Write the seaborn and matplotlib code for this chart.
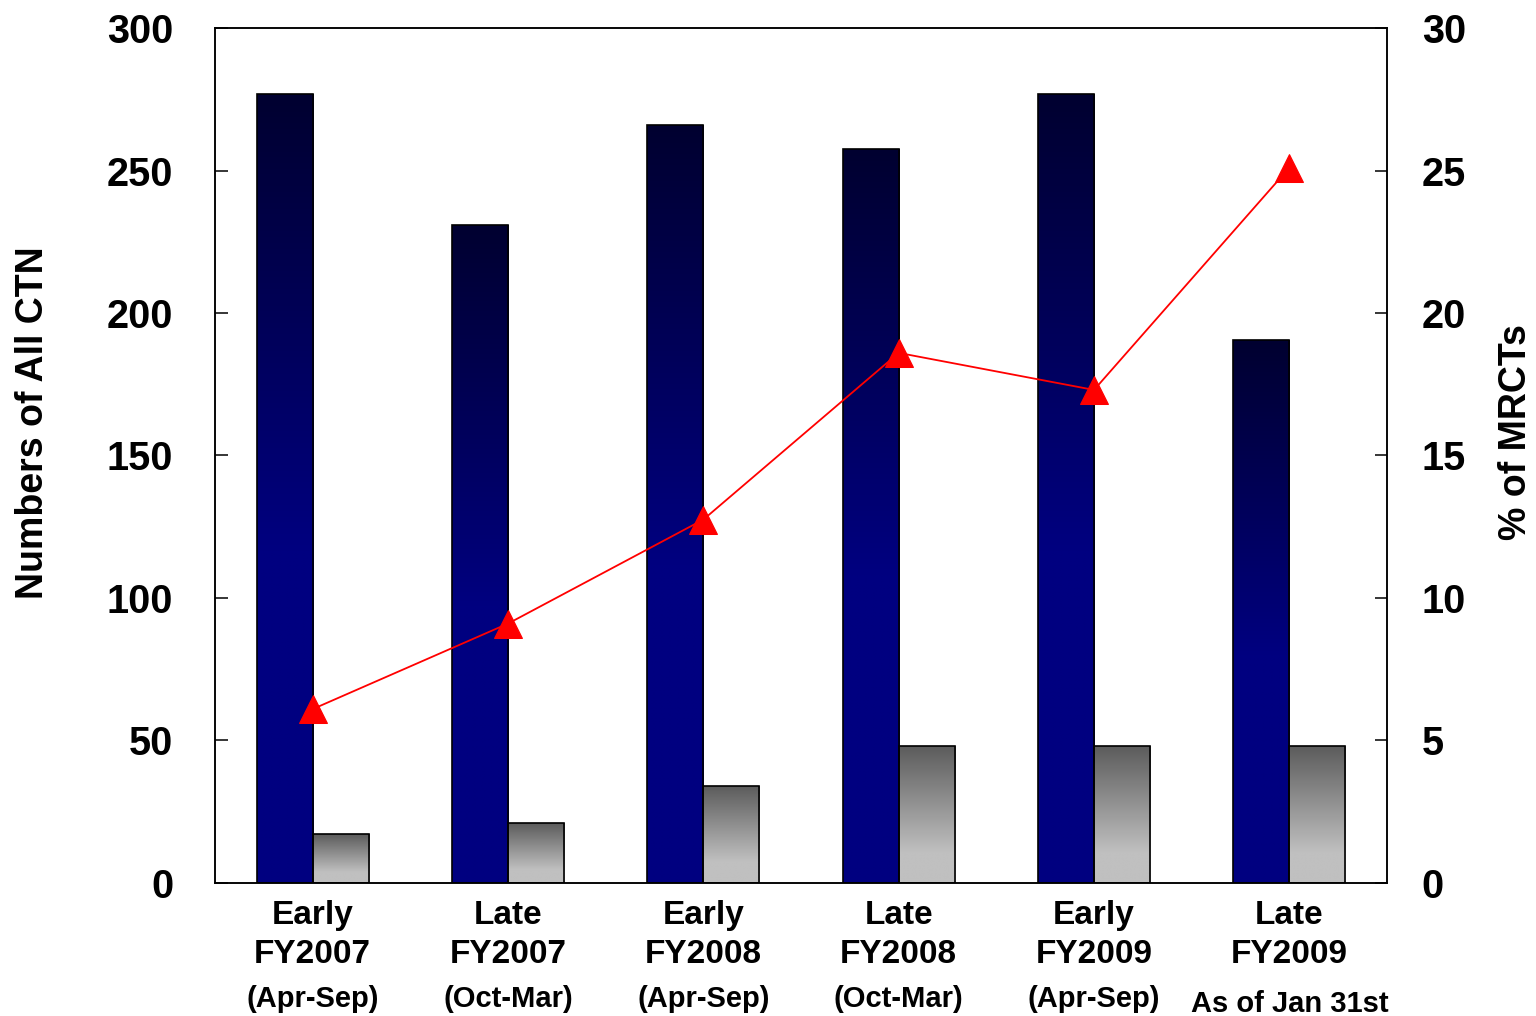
import numpy as np
import pandas as pd
import matplotlib
matplotlib.use("Agg")
import matplotlib.pyplot as plt
import seaborn as sns

# Half-year periods and their sub-captions
periods = ["Early\nFY2007", "Late\nFY2007", "Early\nFY2008",
           "Late\nFY2008", "Early\nFY2009", "Late\nFY2009"]
period_notes = ["(Apr-Sep)", "(Oct-Mar)", "(Apr-Sep)",
                "(Oct-Mar)", "(Apr-Sep)", "As of Jan 31st"]

# Numbers of all clinical trial notifications and of MRCTs
all_ctn = [277, 231, 266, 257.5, 277, 190.5]
mrct_ctn = [17, 21, 34, 48, 48, 48]
# Share of MRCTs (%)
mrct_pct = [6.1, 9.1, 12.75, 18.6, 17.3, 25.1]

sns.set_theme(style="white")
plt.rcParams["font.family"] = ["Liberation Sans", "DejaVu Sans"]
plt.rcParams["font.weight"] = "bold"
for key in ["text.color", "axes.labelcolor", "xtick.color", "ytick.color"]:
    plt.rcParams[key] = "black"

df = pd.DataFrame({
    "period": periods * 2,
    "count": all_ctn + mrct_ctn,
    "series": ["All CTN"] * len(periods) + ["MRCT"] * len(periods),
})

fig = plt.figure(figsize=(15.36, 10.16), dpi=100)
ax = fig.add_axes([0.140, 0.131, 0.763, 0.8414])

sns.barplot(data=df, x="period", y="count", hue="series", order=periods,
            palette=["#000080", "#c0c0c0"], width=0.574, gap=0,
            edgecolor="black", linewidth=1.2, legend=False, ax=ax)


def gradient_fill(axis, patch, top, bottom, frac):
    """Replace a bar's flat face with a vertical colour gradient."""
    x0, y0 = patch.get_x(), patch.get_y()
    w, h = patch.get_width(), patch.get_height()
    t = np.linspace(0, 1, 256)
    s = np.clip(t / frac, 0, 1)[:, None]
    top = np.array(top) / 255.0
    bottom = np.array(bottom) / 255.0
    img = (top * (1 - s) + bottom * s)[:, None, :]
    im = axis.imshow(img, extent=(x0, x0 + w, y0, y0 + h), origin="upper",
                     aspect="auto", interpolation="bilinear",
                     zorder=patch.get_zorder() - 0.05)
    im.set_clip_path(patch)
    patch.set_facecolor("none")


bars = [p for p in ax.patches if p.get_height() > 0]
n = len(periods)
for i, p in enumerate(bars):
    if i < n:
        gradient_fill(ax, p, (0, 0, 48), (0, 0, 128), 0.58)
    else:
        gradient_fill(ax, p, (92, 92, 92), (192, 192, 192), 0.78)

ax.set_xlim(-0.5, len(periods) - 0.5)
ax.set_ylim(0, 300)
ax.set_yticks(np.arange(0, 301, 50))
ax.set_xlabel("")
ax.set_ylabel("Numbers of All CTN", fontsize=27, fontweight="bold", labelpad=40)
ax.yaxis.label.set_y(0.538)
ax.tick_params(axis="y", direction="in", length=9, width=1.1, pad=30,
               labelsize=28.5, left=True)
ax.tick_params(axis="x", length=0, pad=12, labelsize=24)
for lab in ax.get_yticklabels():
    lab.set_fontweight("bold")
for lab in ax.get_xticklabels():
    lab.set_fontweight("bold")
    lab.set_linespacing(1.35)

for i, note in enumerate(period_notes):
    ax.text(i, -0.136 if i < 5 else -0.142, note, transform=ax.get_xaxis_transform(),
            ha="center", va="center", fontsize=21, fontweight="bold")

for side in ["left", "right", "top", "bottom"]:
    ax.spines[side].set_visible(True)
    ax.spines[side].set_color("black")
    ax.spines[side].set_linewidth(1.1)

# Secondary axis: percentage of MRCTs
ax2 = ax.twinx()
sns.lineplot(x=np.arange(len(periods)), y=mrct_pct, ax=ax2, color="red",
             linewidth=1.3, marker="^", markersize=20, markeredgecolor="red",
             markerfacecolor="red")
ax2.set_ylim(0, 30)
ax2.set_yticks(np.arange(0, 31, 5))
ax2.set_ylabel("% of MRCTs", fontsize=27, fontweight="bold", labelpad=23)
ax2.yaxis.label.set_y(0.527)
ax2.tick_params(axis="y", direction="in", length=9, width=1.1, pad=25,
                labelsize=28.5, right=True)
for lab in ax2.get_yticklabels():
    lab.set_fontweight("bold")
ax2.set_xlim(-0.5, len(periods) - 0.5)
for side in ["left", "right", "top", "bottom"]:
    ax2.spines[side].set_color("black")
    ax2.spines[side].set_linewidth(1.1)

fig.savefig("out.png", dpi=100, facecolor="white")
